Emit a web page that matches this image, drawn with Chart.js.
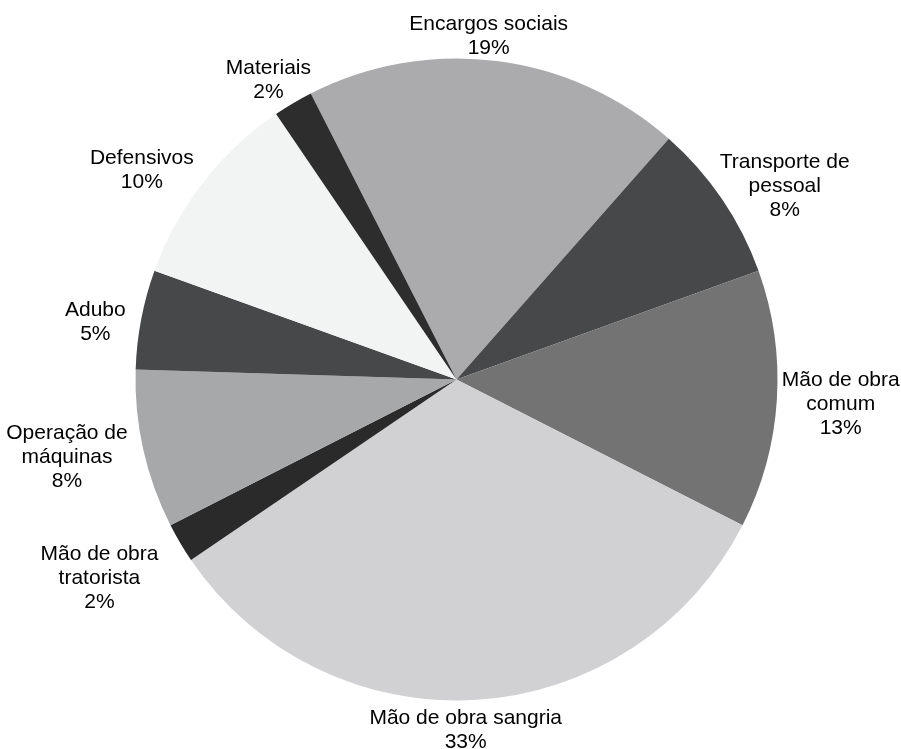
<!DOCTYPE html>
<html>
<head>
<meta charset="utf-8">
<script src="https://cdn.jsdelivr.net/npm/chart.js@4/dist/chart.umd.min.js"></script>
<style>
  html, body { margin: 0; padding: 0; background: #ffffff; }
  #wrap { width: 901px; height: 749px; }
</style>
</head>
<body>
<div id="wrap"><canvas id="c" width="901" height="749"></canvas></div>
<script>
// Cost components (share of total, %)
const categories = [
  ["Encargos sociais"],
  ["Transporte de", "pessoal"],
  ["Mão de obra", "comum"],
  ["Mão de obra sangria"],
  ["Mão de obra", "tratorista"],
  ["Operação de", "máquinas"],
  ["Adubo"],
  ["Defensivos"],
  ["Materiais"]
];
const shares = [19, 8, 13, 33, 2, 8, 5, 10, 2];

const sliceColors = [
  "#abaaad", "#47484a", "#747373", "#d1d1d3", "#2a2a2a",
  "#a7a8aa", "#47484a", "#f2f3f3", "#2d2d2d"
];

// Fine adjustments of each label box, in px
const labelNudge = [
  [-18, -1], [9, 7], [5, 2], [-17, 6], [-30, 17],
  [-17, 0], [-16, 7], [-20, 2], [-3, -2]
];

const FONT_PX = 21;
const LINE_H = 24;
const FONT = FONT_PX + 'px "Liberation Sans", Arial, sans-serif';

// Draws "name / percent" outside the end of each slice
const outsideLabels = {
  id: 'outsideLabels',
  afterDatasetsDraw(chart) {
    const ctx = chart.ctx;
    const meta = chart.getDatasetMeta(0);
    const values = chart.data.datasets[0].data;
    const total = values.reduce((a, b) => a + b, 0);
    ctx.save();
    ctx.font = FONT;
    ctx.fillStyle = '#000000';
    ctx.textAlign = 'center';
    ctx.textBaseline = 'middle';
    meta.data.forEach((arc, i) => {
      const p = arc.getProps(['x', 'y', 'startAngle', 'endAngle', 'outerRadius'], true);
      const mid = (p.startAngle + p.endAngle) / 2;
      const dx = Math.cos(mid), dy = Math.sin(mid);
      const lines = chart.data.labels[i].concat([Math.round(values[i] / total * 100) + '%']);
      const w = Math.max(...lines.map(t => ctx.measureText(t).width));
      const h = lines.length * LINE_H;
      const ax = p.x + p.outerRadius * dx;
      const ay = p.y + p.outerRadius * dy;
      const cx = ax + dx * w / 2 + labelNudge[i][0];
      const cy = ay + dy * h / 2 + labelNudge[i][1];
      lines.forEach((t, k) => {
        ctx.fillText(t, cx, cy + (k - (lines.length - 1) / 2) * LINE_H);
      });
    });
    ctx.restore();
  }
};

new Chart(document.getElementById('c'), {
  type: 'pie',
  data: {
    labels: categories,
    datasets: [{
      data: shares,
      backgroundColor: sliceColors,
      borderWidth: 0,
      hoverOffset: 0
    }]
  },
  options: {
    responsive: false,
    animation: false,
    rotation: -27,
    layout: { padding: { top: 58.5, bottom: 48.5, left: 135.5, right: 123.5 } },
    plugins: {
      legend: { display: false },
      tooltip: { enabled: false }
    }
  },
  plugins: [outsideLabels]
});
</script>
</body>
</html>
